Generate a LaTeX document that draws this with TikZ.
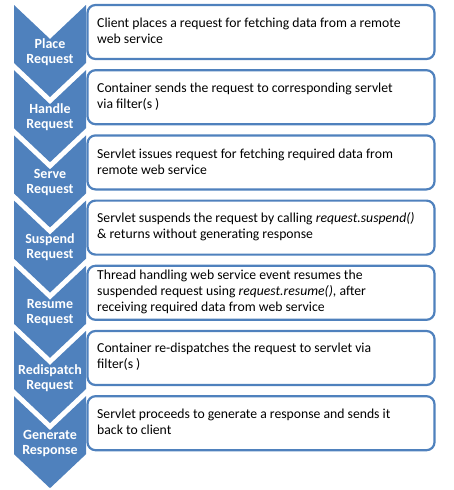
\documentclass[tikz,border=0pt]{standalone}
\usepackage{fontspec}
\setmainfont{Carlito}
\definecolor{accent}{HTML}{4F81BD}
\tikzset{
  chevlabel/.style={text=white, font=\bfseries\fontsize{14}{15}\selectfont, align=center, inner sep=0pt},
  desc/.style={anchor=west, align=left, font=\fontsize{13.7}{16}\selectfont, inner sep=0pt, text=black},
  boxline/.style={draw=accent, line width=2.2pt, rounded corners=8pt, fill=white},
}
\newcommand{\mystage}[4]{%
  \pgfmathsetmacro\T{5+65.2*#1}
  \fill[accent] (14,\T) -- (50,\T+34) -- (86,\T) -- (86,\T+58) -- (50,\T+92) -- (14,\T+58) -- cycle;
  \node[chevlabel] (c#2) at (50,\T+47) {#3};
  \draw[boxline] (87.5,\T) rectangle (434.5,\T+54);
  \node[desc] (d#2) at (97,\T+26) {#4};
}
\begin{document}
\begin{tikzpicture}[x=1pt,y=-1pt]
\useasboundingbox (0,0) rectangle (453,490);
\mystage{0}{place}{Place\\Request}{Client places a request for fetching data from a remote\\web service}
\mystage{1}{handle}{Handle\\Request}{Container sends the request to corresponding servlet\\via filter(s )}
\mystage{2}{serve}{Serve\\Request}{Servlet issues request for fetching required data from\\remote web service}
\mystage{3}{suspend}{Suspend\\Request}{Servlet suspends the request by calling \textit{request.suspend()}\\\& returns without generating response}
\mystage{4}{resume}{Resume\\Request}{Thread handling web service event resumes the\\suspended request using \textit{request.resume()}, after\\receiving required data from web service}
\mystage{5}{redispatch}{Redispatch\\Request}{Container re-dispatches the request to servlet via\\filter(s )}
\mystage{6}{generate}{Generate\\Response}{Servlet proceeds to generate a response and sends it\\back to client}
\end{tikzpicture}
\end{document}
